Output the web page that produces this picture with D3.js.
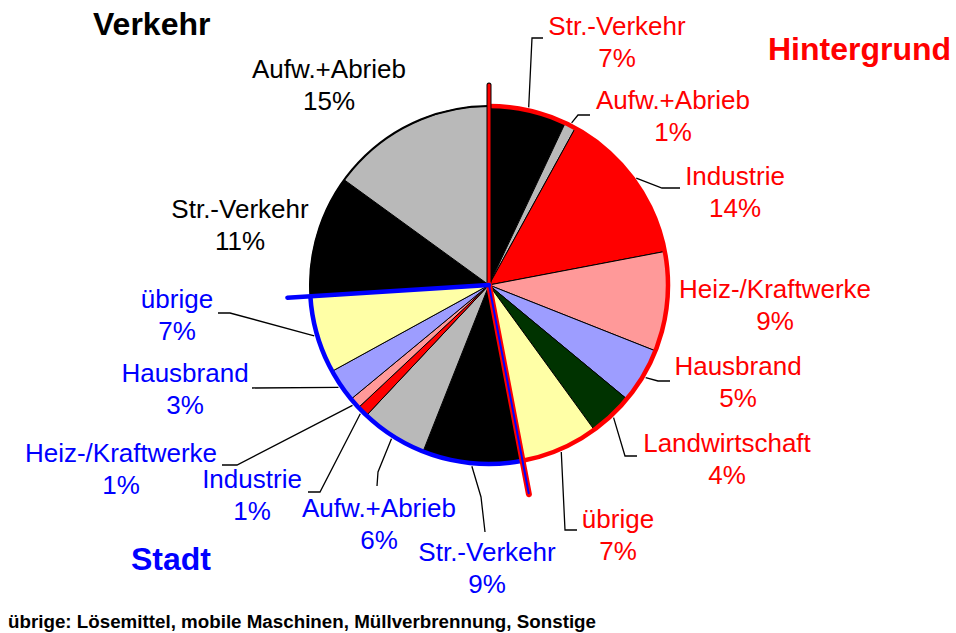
<!DOCTYPE html>
<html>
<meta charset="utf-8">
<style>
  body { margin: 0; background: #fff; }
  text { font-family: "Liberation Sans", Arial, sans-serif; }
  .lbl { font-size: 26px; text-anchor: middle; }
  .title { font-size: 32px; font-weight: bold; }
  .note { font-size: 18px; font-weight: bold; }
</style>
<script src="https://d3js.org/d3.v7.min.js"></script>
<body>
<script>
// data (percent shares, clockwise from 12 o'clock)
var groups = ["Hintergrund", "Stadt", "Verkehr"];
var sliceGroup = ["Hintergrund", "Hintergrund", "Hintergrund", "Hintergrund", "Hintergrund", "Hintergrund", "Hintergrund",
                  "Stadt", "Stadt", "Stadt", "Stadt", "Stadt", "Stadt",
                  "Verkehr", "Verkehr"];
var sliceCategory = ["Str.-Verkehr", "Aufw.+Abrieb", "Industrie", "Heiz-/Kraftwerke", "Hausbrand", "Landwirtschaft", "übrige",
                     "Str.-Verkehr", "Aufw.+Abrieb", "Industrie", "Heiz-/Kraftwerke", "Hausbrand", "übrige",
                     "Str.-Verkehr", "Aufw.+Abrieb"];
var sliceValue = [7, 1, 14, 9, 5, 4, 7,
                  9, 6, 1, 1, 3, 7,
                  11, 15];
var footnote = "übrige: Lösemittel, mobile Maschinen, Müllverbrennung, Sonstige";

// layout
var W = 956, H = 633;
var cx = 489, cy = 285, R = 179;
var catColor = {
  "Str.-Verkehr": "#000000", "Aufw.+Abrieb": "#b9b9b9", "Industrie": "#ff0000",
  "Heiz-/Kraftwerke": "#ff9999", "Hausbrand": "#9d9dff", "Landwirtschaft": "#003300", "übrige": "#ffffa6"
};
var groupColor = { "Hintergrund": "#ff0000", "Stadt": "#0000ff", "Verkehr": "#000000" };
// label centre x / first baseline y
var labelXY = [[617, 35], [673, 109], [735, 185], [775, 298], [738, 375], [727, 452], [618, 528],
               [487, 561], [379, 517], [252, 488], [121, 462], [185, 382], [177, 308],
               [240, 218], [329, 78]];
// leader lines: elbow, end (null = no leader)
var leaders = [[[532, 38], [543, 38]], [[578, 115], [590, 115]], [[662, 188], [680, 188]], null,
               [[658, 381], [670, 381]], [[625, 456], [637, 456]], [[565, 530], [577, 530]],
               [[481, 497], [485, 532]], [[378, 472], [377, 486]], [[320, 492], [308, 492]],
               [[237, 465], [222, 465]], [[252, 388], [252, 388]], [[230, 313], [218, 313]],
               null, null];

var data = sliceValue.map(function(v, i) {
  return { group: sliceGroup[i], cat: sliceCategory[i], value: v };
});

var svg = d3.select("body").append("svg")
  .attr("width", W).attr("height", H)
  .style("background", "#fff");

var g = svg.append("g").attr("transform", "translate(" + cx + "," + cy + ")");

var pie = d3.pie().sort(null).value(function(d) { return d.value; });
var arcs = pie(data);
var arc = d3.arc().innerRadius(0).outerRadius(R);

g.selectAll(".slice")
  .data(arcs)
  .enter().append("path")
  .attr("class", "slice")
  .attr("d", arc)
  .attr("fill", function(d) { return catColor[d.data.cat]; })
  .attr("stroke", "#000")
  .attr("stroke-width", 1);

// group extents
var ext = groups.map(function(gr) {
  var a = arcs.filter(function(d) { return d.data.group === gr; });
  return { group: gr, a0: a[0].startAngle, a1: a[a.length - 1].endAngle };
});

function outerArc(a0, a1) {
  var p = d3.path();
  p.arc(0, 0, R, a0 - Math.PI / 2, a1 - Math.PI / 2);
  return p.toString();
}
function ray(a, len) {
  return "M0,0L" + (Math.sin(a) * len) + "," + (-Math.cos(a) * len);
}

// Verkehr outer edge
g.append("path").attr("d", outerArc(ext[2].a0, ext[2].a1))
  .attr("fill", "none").attr("stroke", "#000").attr("stroke-width", 2);

// Hintergrund outline
g.append("path").attr("d", outerArc(ext[0].a0, ext[0].a1))
  .attr("fill", "none").attr("stroke", groupColor.Hintergrund).attr("stroke-width", 4.5);
g.append("path").attr("d", ray(ext[0].a0, 200))
  .attr("stroke", "#000").attr("stroke-width", 5).attr("stroke-linecap", "round");
g.append("path").attr("d", ray(ext[0].a0, 200))
  .attr("stroke", groupColor.Hintergrund).attr("stroke-width", 3).attr("stroke-linecap", "round");

// Stadt outline
g.append("path").attr("d", outerArc(ext[1].a0, ext[1].a1))
  .attr("fill", "none").attr("stroke", groupColor.Stadt).attr("stroke-width", 4.5);
g.append("path").attr("d", ray(ext[1].a0, 213))
  .attr("stroke", groupColor.Hintergrund).attr("stroke-width", 6).attr("stroke-linecap", "round");
g.append("path").attr("d", ray(ext[1].a0, 212))
  .attr("stroke", groupColor.Stadt).attr("stroke-width", 2).attr("stroke-linecap", "round");
g.append("path").attr("d", ray(ext[1].a1, 202))
  .attr("stroke", groupColor.Stadt).attr("stroke-width", 4.5).attr("stroke-linecap", "round");

// leader lines
arcs.forEach(function(d, i) {
  var L = leaders[i];
  if (!L) return;
  var m = (d.startAngle + d.endAngle) / 2;
  var sx = cx + Math.sin(m) * (R + 3), sy = cy - Math.cos(m) * (R + 3);
  svg.append("polyline")
    .attr("points", [[sx, sy], L[0], L[1]].map(function(p) { return p.join(","); }).join(" "))
    .attr("fill", "none").attr("stroke", "#000").attr("stroke-width", 1.3);
});

// labels
var lbl = svg.selectAll(".lbl")
  .data(arcs)
  .enter().append("text")
  .attr("class", "lbl")
  .attr("fill", function(d) { return d.data.group === "Verkehr" ? "#000" : groupColor[d.data.group]; })
  .attr("transform", function(d, i) { return "translate(" + labelXY[i][0] + "," + labelXY[i][1] + ")"; });
lbl.append("tspan").attr("x", 0).attr("y", 0).text(function(d) { return d.data.cat; });
lbl.append("tspan").attr("x", 0).attr("y", 32).text(function(d) { return d.data.value + "%"; });

// group titles
svg.append("text").attr("class", "title").attr("x", 93).attr("y", 35).attr("fill", groupColor.Verkehr).text("Verkehr");
svg.append("text").attr("class", "title").attr("x", 768).attr("y", 60).attr("fill", groupColor.Hintergrund).text("Hintergrund");
svg.append("text").attr("class", "title").attr("x", 131).attr("y", 570).attr("fill", groupColor.Stadt).text("Stadt");

svg.append("text").attr("class", "note").attr("x", 8).attr("y", 628)
  .attr("textLength", 588).attr("lengthAdjust", "spacingAndGlyphs")
  .text(footnote);
</script>
</body>
</html>
